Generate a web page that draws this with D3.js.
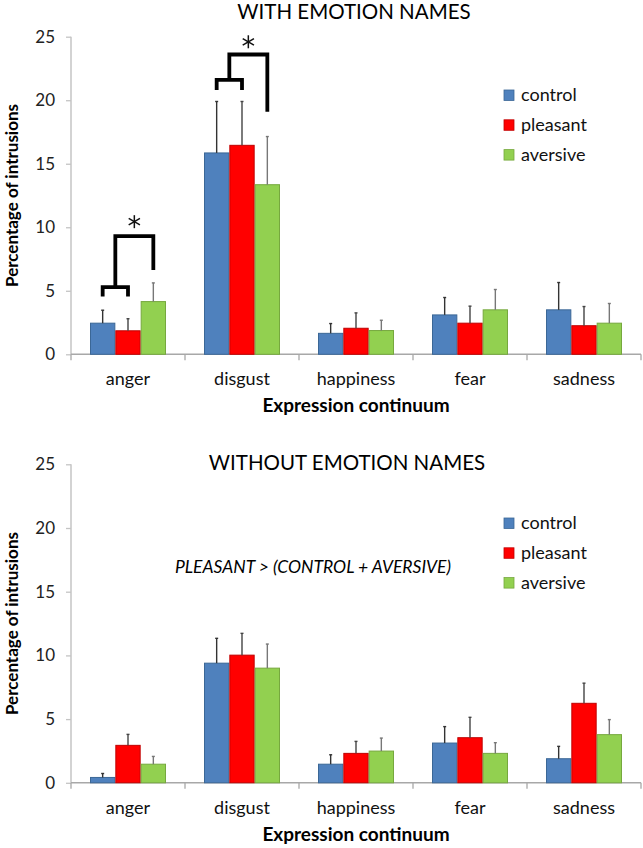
<!DOCTYPE html>
<html><head><meta charset="utf-8">
<script src="https://cdn.jsdelivr.net/npm/d3@7/dist/d3.min.js"></script>
<style>
html,body{margin:0;padding:0;background:#fff;}
svg{display:block;font-family:Lato, "Open Sans", sans-serif;}
</style></head>
<body><svg id="c" width="643" height="848"></svg>
<script>
const categories = ["anger","disgust","happiness","fear","sadness"];
const series = ["control","pleasant","aversive"];
const yTicks = [0,5,10,15,20,25];

// WITH EMOTION NAMES
const withControl  = [2.45, 15.85, 1.65, 3.10, 3.50];
const withPleasant = [1.85, 16.45, 2.05, 2.45, 2.25];
const withAversive = [4.15, 13.35, 1.87, 3.50, 2.45];
const withControlErr  = [1.02, 4.05, 0.77, 1.37, 2.15];
const withPleasantErr = [0.95, 3.45, 1.21, 1.34, 1.51];
const withAversiveErr = [1.47, 3.79, 0.81, 1.60, 1.55];

// WITHOUT EMOTION NAMES
const withoutControl  = [0.42, 9.39, 1.46, 3.12, 1.89];
const withoutPleasant = [2.94, 10.02, 2.31, 3.54, 6.24];
const withoutAversive = [1.46, 9.00, 2.49, 2.31, 3.78];
const withoutControlErr  = [0.31, 1.95, 0.74, 1.29, 0.97];
const withoutPleasantErr = [0.86, 1.71, 0.94, 1.60, 1.58];
const withoutAversiveErr = [0.61, 1.89, 1.02, 0.84, 1.18];

// significance brackets (top panel), in data units
const bracketCats = ["anger","disgust"];
const bracketPairY = [5.28, 21.6];
const bracketPairLegY = [4.54, 20.8];
const bracketTopY = [9.31, 23.6];
const bracketRightLegY = [6.64, 19.1];
const starY = [10.44, 24.6];

const colors = {control:"#4F81BD", pleasant:"#FF0000", aversive:"#92D050"};
const strokes = {control:"#3B6796", pleasant:"#C00000", aversive:"#76A83E"};
const errColors = {control:"#333", pleasant:"#444", aversive:"#777"};

const svg = d3.select("#c");

function panel(opts){
  const g = svg.append("g");
  const x = d3.scaleBand().domain(categories).range([71, 641]).paddingInner(1/3).paddingOuter(1/6);
  const xs = d3.scaleBand().domain(series).range([0, x.bandwidth()]);
  const y = d3.scaleLinear().domain([0,25]).range([opts.y0, opts.y25]);
  const step = x.step();

  const ya = g.append("g").attr("transform","translate(71,0)")
    .call(d3.axisLeft(y).tickValues(yTicks).tickSize(5).tickPadding(11));
  ya.select(".domain").attr("stroke","#c4c4c4").attr("stroke-width",1.5).attr("d",`M0,${opts.y0}V${opts.y25}`);
  ya.selectAll(".tick line").attr("stroke","#c4c4c4").attr("stroke-width",1.3);
  ya.selectAll(".tick text").attr("font-size",17).attr("fill","#222").attr("font-family","Lato");

  g.append("line").attr("x1",71).attr("x2",641).attr("y1",opts.y0).attr("y2",opts.y0)
    .attr("stroke","#a8a8a8").attr("stroke-width",1.5);
  const bounds = d3.range(categories.length+1).map(i => 71 + i*step);
  g.selectAll(".xt").data(bounds).join("line")
    .attr("x1",d=>d).attr("x2",d=>d).attr("y1",opts.y0).attr("y2",opts.y0+6)
    .attr("stroke","#a8a8a8").attr("stroke-width",1.3);
  g.selectAll(".xl").data(categories).join("text")
    .attr("x",d=>x(d)+x.bandwidth()/2).attr("y",opts.y0+31)
    .attr("text-anchor","middle").attr("font-size",18).attr("fill","#111").text(d=>d);

  const rows = [];
  series.forEach((s,si)=>{
    categories.forEach((c,ci)=>{
      rows.push({s, c, v: opts.vals[si][ci], e: opts.errs[si][ci]});
    });
  });
  g.selectAll(".bar").data(rows).join("rect")
    .attr("x",d=>x(d.c)+xs(d.s)+0.5).attr("width",xs.bandwidth()-1)
    .attr("y",d=>y(d.v)).attr("height",d=>y(0)-y(d.v))
    .attr("fill",d=>colors[d.s]).attr("stroke",d=>strokes[d.s]).attr("stroke-width",1);
  const eg = g.selectAll(".err").data(rows).join("g");
  eg.append("line")
    .attr("x1",d=>x(d.c)+xs(d.s)+xs.bandwidth()/2).attr("x2",d=>x(d.c)+xs(d.s)+xs.bandwidth()/2)
    .attr("y1",d=>y(d.v)).attr("y2",d=>y(d.v+d.e))
    .attr("stroke",d=>errColors[d.s]).attr("stroke-width",1.4);
  eg.append("line")
    .attr("x1",d=>x(d.c)+xs(d.s)+xs.bandwidth()/2-1.5).attr("x2",d=>x(d.c)+xs(d.s)+xs.bandwidth()/2+1.5)
    .attr("y1",d=>y(d.v+d.e)).attr("y2",d=>y(d.v+d.e))
    .attr("stroke",d=>errColors[d.s]).attr("stroke-width",1.4);

  g.append("text").attr("transform",`translate(18,${(opts.y0+opts.y25)/2}) rotate(-90)`)
    .attr("text-anchor","middle").attr("font-size",17).attr("font-weight","bold").attr("fill","#000")
    .text("Percentage of intrusions");
  g.append("text").attr("x",356).attr("y",opts.y0+58).attr("text-anchor","middle")
    .attr("font-size",19).attr("font-weight","bold").attr("fill","#000").text("Expression continuum");

  g.append("text").attr("x",opts.titleX).attr("y",opts.titleY).attr("text-anchor","middle")
    .attr("font-size",20.5).attr("fill","#000").text(opts.title);

  const lg = g.selectAll(".lg").data(series).join("g")
    .attr("transform",(d,i)=>`translate(504,${opts.legendY + i*29.8})`);
  lg.append("rect").attr("x",0).attr("y",-5).attr("width",10).attr("height",10.5)
    .attr("fill",d=>colors[d]).attr("stroke",d=>strokes[d]).attr("stroke-width",0.8);
  lg.append("text").attr("x",17).attr("y",6).attr("font-size",18).attr("fill","#111").text(d=>d);

  return {g,x,xs,y};
}

const topPanel = panel({y0:354.3, y25:36.7, title:"WITH EMOTION NAMES", titleX:354, titleY:19, legendY:95,
  vals:[withControl,withPleasant,withAversive], errs:[withControlErr,withPleasantErr,withAversiveErr]});
const botPanel = panel({y0:782.8, y25:464.3, title:"WITHOUT EMOTION NAMES", titleX:347, titleY:470, legendY:523,
  vals:[withoutControl,withoutPleasant,withoutAversive], errs:[withoutControlErr,withoutPleasantErr,withoutAversiveErr]});

bracketCats.forEach((c,i)=>{
  const {g,x,xs,y} = topPanel;
  const cx = s => x(c)+xs(s)+xs.bandwidth()/2;
  const a = cx("control"), b = cx("pleasant"), r = cx("aversive");
  const m = (a+b)/2;
  const path = `M${a},${y(bracketPairLegY[i])}V${y(bracketPairY[i])}H${b}V${y(bracketPairLegY[i])}` +
               `M${m},${y(bracketPairY[i])}V${y(bracketTopY[i])}H${r}V${y(bracketRightLegY[i])}`;
  g.append("path").attr("d",path).attr("fill","none").attr("stroke","#000").attr("stroke-width",3.8)
    .attr("stroke-linejoin","miter").attr("stroke-linecap","butt");
  const sx = (m+r)/2, sy = y(starY[i]);
  const sg = g.append("g").attr("transform",`translate(${sx},${sy})`);
  [90,30,-30].forEach(a2=>{
    const rad = a2*Math.PI/180, L=6.5;
    sg.append("line").attr("x1",-L*Math.cos(rad)).attr("y1",-L*Math.sin(rad))
      .attr("x2",L*Math.cos(rad)).attr("y2",L*Math.sin(rad))
      .attr("stroke","#111").attr("stroke-width",1.5);
  });
});

botPanel.g.append("text").attr("x",313).attr("y",573).attr("text-anchor","middle")
  .attr("font-size",17.5).attr("font-style","italic").attr("fill","#000")
  .text("PLEASANT > (CONTROL + AVERSIVE)");
</script></body></html>
